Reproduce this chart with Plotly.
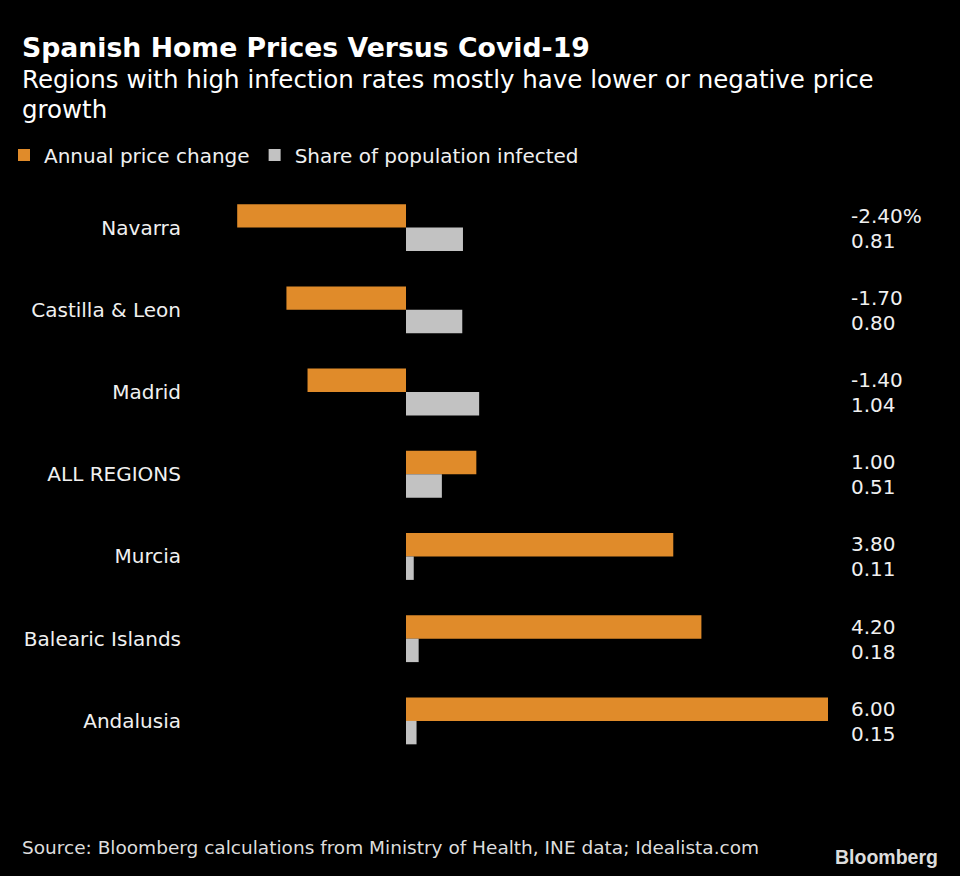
import plotly.graph_objects as go

regions = ["Navarra", "Castilla & Leon", "Madrid", "ALL REGIONS", "Murcia", "Balearic Islands", "Andalusia"]
price_change = [-2.40, -1.70, -1.40, 1.00, 3.80, 4.20, 6.00]
infected_share = [0.81, 0.80, 1.04, 0.51, 0.11, 0.18, 0.15]

ORANGE = "#E08B2A"
GREY = "#C2C2C2"
FONT = "DejaVu Sans"
W, H = 960, 876
ML, MR, MT, MB = 200, 130, 185, 114
PX_PER_UNIT = 422 / 6.0
ZERO_PX = 406
x_lo = (ML - ZERO_PX) / PX_PER_UNIT
x_hi = (W - MR - ZERO_PX) / PX_PER_UNIT


def px_x(p):
    return (p - ML) / (W - ML - MR)


def px_y(p):
    return (H - MB - p) / (H - MT - MB)


fig = go.Figure()
fig.add_trace(go.Bar(y=regions, x=price_change, orientation="h", name="Annual price change",
                     marker=dict(color=ORANGE, line=dict(width=0))))
fig.add_trace(go.Bar(y=regions, x=infected_share, orientation="h", name="Share of population infected",
                     marker=dict(color=GREY, line=dict(width=0))))

annotations = []
label_x = px_x(849)
for i, r in enumerate(regions):
    t1 = f"{price_change[i]:.2f}" + ("%" if i == 0 else "")
    annotations.append(dict(x=label_x, y=r, xref="paper", yref="y", text=t1, showarrow=False,
                            xanchor="left", yanchor="middle", yshift=12,
                            font=dict(family=FONT, size=20, color="#F0F0F0")))
    annotations.append(dict(x=label_x, y=r, xref="paper", yref="y", text=f"{infected_share[i]:.2f}",
                            showarrow=False, xanchor="left", yanchor="middle", yshift=-13,
                            font=dict(family=FONT, size=20, color="#F0F0F0")))

annotations.append(dict(x=px_x(20), y=px_y(46), xref="paper", yref="paper", xanchor="left", yanchor="middle",
                        text="<b>Spanish Home Prices Versus Covid-19</b>", showarrow=False,
                        font=dict(family=FONT, size=26.7, color="#FFFFFF")))
annotations.append(dict(x=px_x(20), y=px_y(78), xref="paper", yref="paper", xanchor="left", yanchor="middle",
                        text="Regions with high infection rates mostly have lower or negative price", showarrow=False,
                        font=dict(family=FONT, size=24.5, color="#FFFFFF")))
annotations.append(dict(x=px_x(20), y=px_y(108), xref="paper", yref="paper", xanchor="left", yanchor="middle",
                        text="growth", showarrow=False,
                        font=dict(family=FONT, size=24.5, color="#FFFFFF")))
annotations.append(dict(x=px_x(20), y=px_y(848), xref="paper", yref="paper", xanchor="left", yanchor="middle",
                        text="Source: Bloomberg calculations from Ministry of Health, INE data; Idealista.com",
                        showarrow=False, font=dict(family=FONT, size=18.5, color="#DDDDDD")))
annotations.append(dict(x=px_x(940), y=px_y(857), xref="paper", yref="paper", xanchor="right", yanchor="middle",
                        text="<b>Bloomberg</b>", showarrow=False,
                        font=dict(family="Liberation Sans", size=19.5, color="#DDDDDD")))

fig.update_layout(
    width=W, height=H,
    margin=dict(l=ML, r=MR, t=MT, b=MB),
    paper_bgcolor="#000000", plot_bgcolor="#000000",
    barmode="group", bargap=0.43, bargroupgap=0,
    showlegend=True,
    legend=dict(orientation="h", xref="container", yref="container", x=4 / W, y=1 - 155 / H,
                xanchor="left", yanchor="middle", bgcolor="rgba(0,0,0,0)",
                font=dict(family=FONT, size=20, color="#F0F0F0"), itemwidth=30,
                tracegroupgap=0),
    xaxis=dict(range=[x_lo, x_hi], showgrid=False, zeroline=False, showticklabels=False,
               showline=False, ticks=""),
    yaxis=dict(autorange="reversed", showgrid=False, zeroline=False, showline=False, ticks="",
               ticklabelstandoff=18, tickfont=dict(family=FONT, size=20, color="#F0F0F0")),
    annotations=annotations,
    font=dict(family=FONT, color="#F0F0F0"),
)

fig.write_html("out.html")
